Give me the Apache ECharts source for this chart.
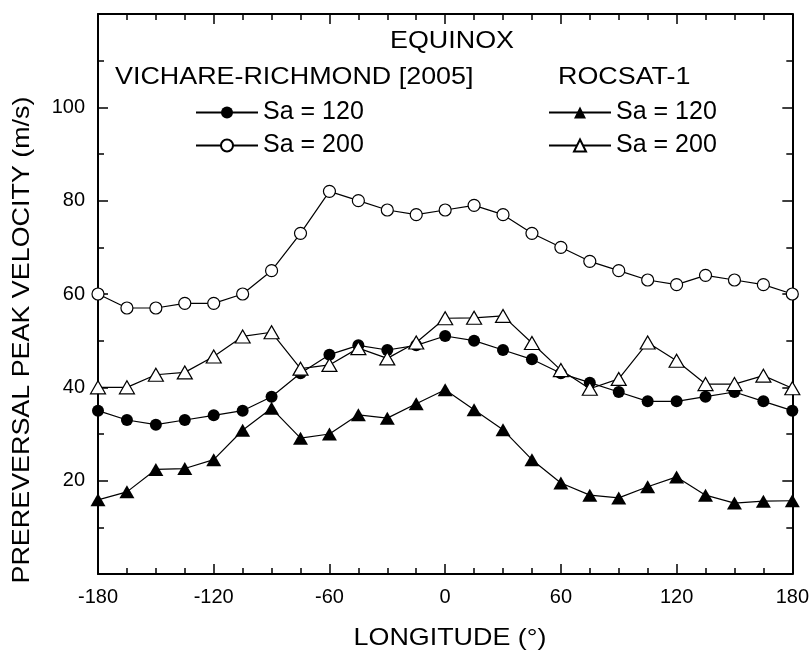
<!DOCTYPE html>
<html>
<head>
<meta charset="utf-8">
<script src="https://cdn.jsdelivr.net/npm/echarts@6/dist/echarts.min.js"></script>
<style>
  html, body { margin: 0; padding: 0; background: #fff; }
  #chart { width: 812px; height: 650px; }
</style>
</head>
<body>
<div id="chart"></div>
<script>
// Longitude bins (degrees)
const longitudes = [-180, -165, -150, -135, -120, -105, -90, -75, -60, -45, -30, -15, 0,
                    15, 30, 45, 60, 75, 90, 105, 120, 135, 150, 165, 180];

// Prereversal peak velocity (m/s), Vichare-Richmond [2005] model
const vrSa120 = [35, 33, 32, 33, 34, 35, 38, 43, 47, 49, 48, 49, 51,
                 50, 48, 46, 43, 41, 39, 37, 37, 38, 39, 37, 35];
const vrSa200 = [60, 57, 57, 58, 58, 60, 65, 73, 82, 80, 78, 77, 78,
                 79, 77, 73, 70, 67, 65, 63, 62, 64, 63, 62, 60];

// Prereversal peak velocity (m/s), ROCSAT-1 observations
const rocSa120 = [15.9, 17.6, 22.4, 22.6, 24.5, 30.8, 35.5, 29.1, 30, 34.1, 33.4, 36.5, 39.5,
                  35.2, 30.9, 24.5, 19.5, 16.9, 16.3, 18.7, 20.8, 16.9, 15.2, 15.6, 15.7];
const rocSa200 = [40, 40, 42.7, 43.2, 46.6, 50.9, 51.8, 44, 44.8, 48.4, 46.2, 49.6, 54.8,
                  54.9, 55.3, 49.5, 43.7, 39.7, 41.8, 49.6, 45.7, 40.7, 40.7, 42.5, 39.8];

// Axis tick labels
const xTickLabels = [-180, -120, -60, 0, 60, 120, 180];
const yTickLabels = [20, 40, 60, 80, 100];

// Series names / legend texts
const vrPrefix = 'VICHARE-RICHMOND ';
const rocPrefix = 'ROCSAT-1 ';
const sa120Label = 'Sa = 120';
const sa200Label = 'Sa = 200';

const FONT = "'Liberation Sans', Arial, Helvetica, sans-serif";
const BIG = 24;
const STRETCH = 1.12;

const pairs = (ys) => longitudes.map((x, i) => [x, ys[i]]);

const chart = echarts.init(document.getElementById('chart'), null, { renderer: 'canvas' });

const axisLine = { show: true, onZero: false, lineStyle: { color: '#000', width: 2 } };
const axisTick = { show: true, inside: true, length: 10, lineStyle: { color: '#000', width: 1.5 } };
const minorTick = { show: true, length: 6, lineStyle: { color: '#000', width: 1.5 } };

const xCommon = {
  type: 'value', min: -180, max: 180, interval: 60,
  axisLine, axisTick, splitLine: { show: false },
  minorTick: Object.assign({ splitNumber: 4 }, minorTick)
};
const yCommon = {
  type: 'value', min: 0, max: 120, interval: 20,
  axisLine, axisTick, splitLine: { show: false },
  minorTick: Object.assign({ splitNumber: 2 }, minorTick)
};

function lineSeries(name, ys, symbol, filled, size) {
  return {
    name, type: 'line', data: pairs(ys),
    symbol, symbolSize: size, showAllSymbol: true,
    lineStyle: { color: '#000', width: 1.2 },
    itemStyle: filled
      ? { color: '#000', borderColor: '#000', borderWidth: 0 }
      : { color: '#fff', borderColor: '#000', borderWidth: 1.2 },
    emphasis: { disabled: true },
    animation: false
  };
}

function legendFor(prefix, left) {
  return {
    orient: 'vertical', left, top: 100, padding: 0,
    itemWidth: 62, itemHeight: 15, itemGap: 8,
    selectedMode: false,
    data: [prefix + sa120Label, prefix + sa200Label],
    formatter: (n) => n.slice(prefix.length),
    textStyle: { fontFamily: FONT, fontSize: 25, color: '#000' }
  };
}

function label(text, x, y, align, rotation) {
  return {
    type: 'text', x, y, rotation: rotation || 0, scaleX: STRETCH,
    style: { text, font: BIG + 'px ' + FONT, fill: '#000', textAlign: align, textVerticalAlign: 'middle' }
  };
}

chart.setOption({
  backgroundColor: '#fff',
  animation: false,
  grid: { left: 98, right: 17, top: 14, bottom: 76, containLabel: false },
  xAxis: [
    Object.assign({}, xCommon, {
      position: 'bottom',
      axisLabel: {
        show: true, margin: 13, fontFamily: FONT, fontSize: 20, color: '#000',
        showMinLabel: true, showMaxLabel: true,
        formatter: (v) => xTickLabels.includes(v) ? String(v) : ''
      }
    }),
    Object.assign({}, xCommon, { position: 'top', axisLabel: { show: false } })
  ],
  yAxis: [
    Object.assign({}, yCommon, {
      position: 'left',
      axisLabel: {
        show: true, margin: 13, fontFamily: FONT, fontSize: 20, color: '#000',
        formatter: (v) => yTickLabels.includes(v) ? String(v) : ''
      }
    }),
    Object.assign({}, yCommon, { position: 'right', axisLabel: { show: false } })
  ],
  legend: [legendFor(vrPrefix, 195), legendFor(rocPrefix, 548)],
  series: [
    lineSeries(vrPrefix + sa120Label, vrSa120, 'circle', true, 12),
    lineSeries(vrPrefix + sa200Label, vrSa200, 'circle', false, 12),
    lineSeries(rocPrefix + sa120Label, rocSa120, 'triangle', true, [15, 13]),
    lineSeries(rocPrefix + sa200Label, rocSa200, 'triangle', false, [15, 13])
  ],
  graphic: [
    label('EQUINOX', 452, 41, 'center'),
    label('VICHARE-RICHMOND [2005]', 115, 77, 'left'),
    label('ROCSAT-1', 558, 77, 'left'),
    label('LONGITUDE (\u00B0)', 450, 638, 'center'),
    label('PREREVERSAL PEAK VELOCITY (m/s)', 22, 340, 'center', Math.PI / 2)
  ]
});
</script>
</body>
</html>
